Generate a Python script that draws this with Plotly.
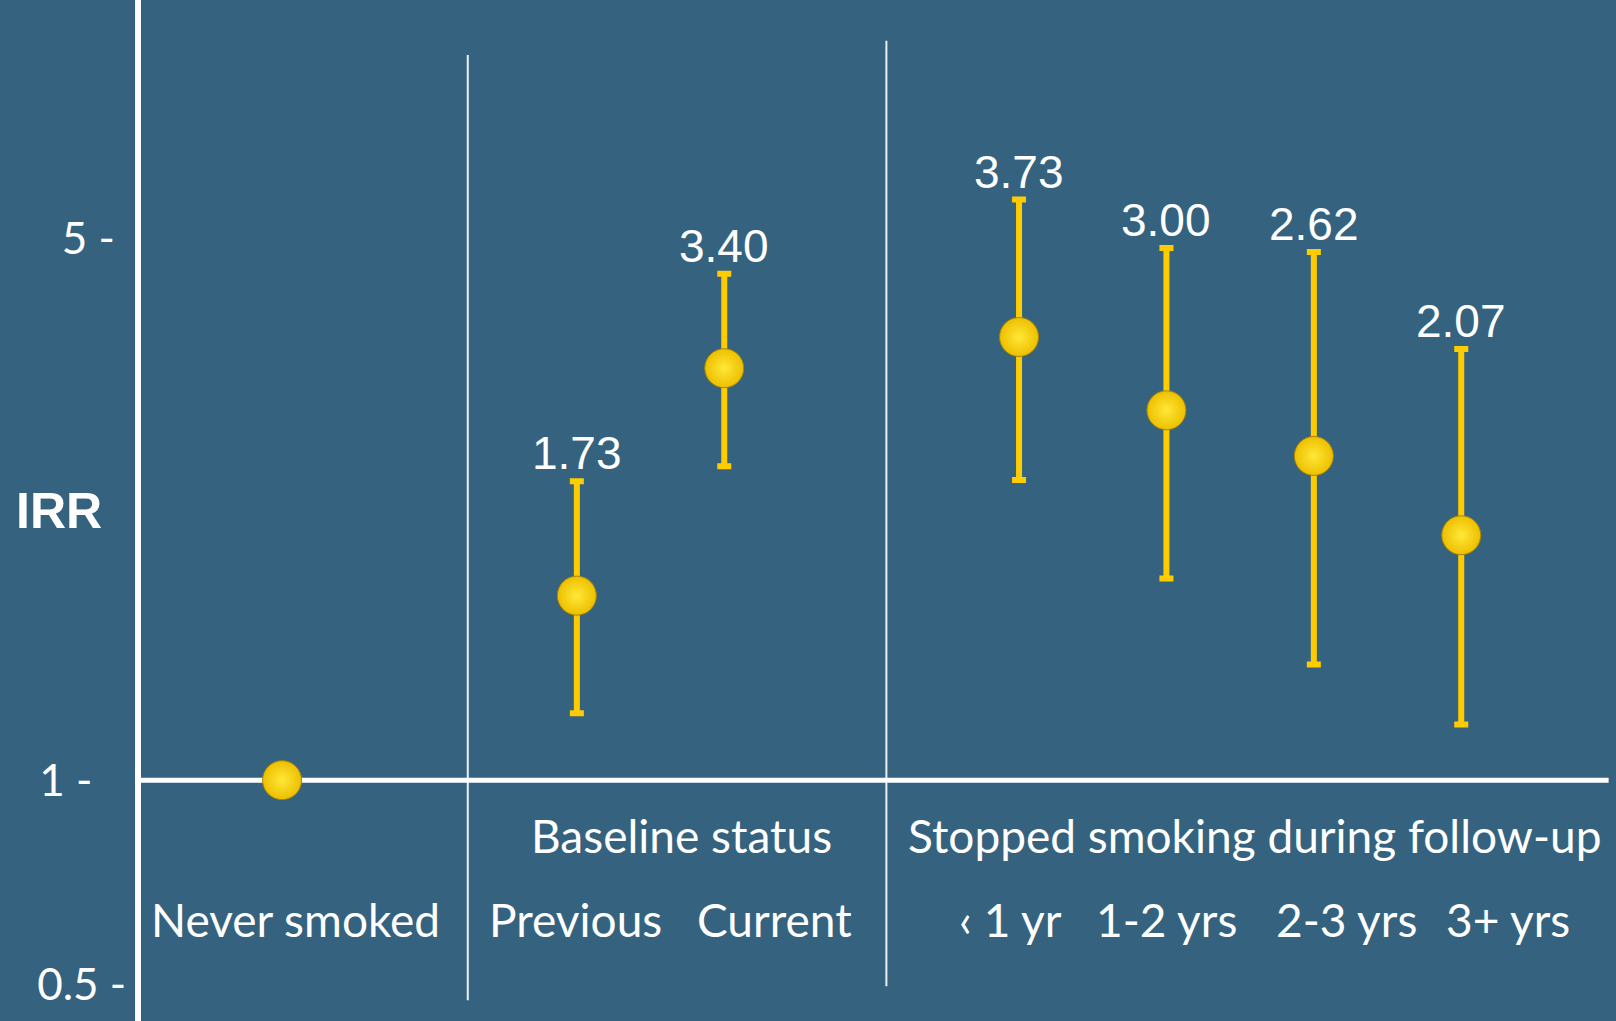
import math
import plotly.graph_objects as go

# ---- data ----
categories = ["Never smoked", "Previous", "Current", "\u2039 1 yr", "1-2 yrs", "2-3 yrs", "3+ yrs"]
x_pos = [0, 2, 3, 5, 6, 7, 8]
irr = [1.00, 1.73, 3.40, 3.73, 3.00, 2.62, 2.07]
ci_low = [1.00, 1.22, 2.54, 2.44, 1.82, 1.41, 1.18]
ci_high = [1.00, 2.43, 4.50, 5.61, 4.86, 4.80, 3.60]
value_labels = ["", "1.73", "3.40", "3.73", "3.00", "2.62", "2.07"]
tick_vals = [0.5, 1, 5]
tick_text = ["0.5 -<br>\u00a0", "1 -\u00a0\u00a0\u00a0", "5 -\u00a0"]
group_labels = ["Baseline status", "Stopped smoking during follow-up"]
group_label_x = [2.71, 6.6]
cat_label_x = [0.09, 1.99, 3.34, 4.94, 6.0, 7.22, 8.32]
separators_x = [1.26, 4.10]
separators_y = [[0.52, 8.62], [0.542, 8.99]]

BG = "#35637F"
YEL = "#FFCC00"
LABEL_FONT = "Lato, 'Open Sans', sans-serif"

fig = go.Figure()

# separators
for sx, (ylo, yhi) in zip(separators_x, separators_y):
    fig.add_trace(go.Scatter(x=[sx, sx], y=[ylo, yhi], mode="lines",
                             line=dict(color="rgba(255,255,255,0.9)", width=2),
                             hoverinfo="skip", showlegend=False))

# reference line at IRR = 1
fig.add_trace(go.Scatter(x=[-0.96, 9.0], y=[1, 1], mode="lines",
                         line=dict(color="white", width=5),
                         hoverinfo="skip", showlegend=False))

# points with CIs
fig.add_trace(go.Scatter(
    x=x_pos, y=irr, mode="markers",
    marker=dict(size=39, color="#EDBF00",
                gradient=dict(type="radial", color="#FFE838"),
                line=dict(color="#A88400", width=1)),
    error_y=dict(type="data", symmetric=False,
                 array=[h - v for h, v in zip(ci_high, irr)],
                 arrayminus=[v - l for l, v in zip(ci_low, irr)],
                 color=YEL, thickness=6, width=7),
    showlegend=False, hoverinfo="skip"))

annotations = []
for xp, hi, lab in zip(x_pos, ci_high, value_labels):
    if lab:
        annotations.append(dict(x=xp, y=math.log10(hi), xref="x", yref="y",
                                text=lab, showarrow=False, yanchor="bottom",
                                yshift=0,
                                font=dict(family="Liberation Sans, Arial", size=46, color="white")))
# category labels
for cx, lab in zip(cat_label_x, categories):
    annotations.append(dict(x=cx, y=0.099, xref="x", yref="paper", text=lab,
                            showarrow=False, yanchor="middle",
                            font=dict(family=LABEL_FONT, size=46, color="white")))
for gx, lab in zip(group_label_x, group_labels):
    annotations.append(dict(x=gx, y=0.182, xref="x", yref="paper", text=lab,
                            showarrow=False, yanchor="middle",
                            font=dict(family=LABEL_FONT, size=46, color="white")))
annotations.append(dict(x=-0.0556, y=0.5, xref="paper", yref="paper", text="<b>IRR</b>",
                        showarrow=False, xanchor="center",
                        font=dict(family="Liberation Sans, Arial", size=50, color="white")))

fig.update_layout(
    width=1616, height=1021,
    margin=dict(l=141, r=0, t=0, b=0),
    paper_bgcolor=BG, plot_bgcolor=BG,
    annotations=annotations,
    xaxis=dict(range=[-0.957, 9.05], showgrid=False, zeroline=False,
               showticklabels=False, showline=False, automargin=False),
    yaxis=dict(type="log", range=[math.log10(0.489), math.log10(10.15)],
               showgrid=False, zeroline=False, showline=True, linecolor="white",
               linewidth=6, tickvals=tick_vals, ticktext=tick_text, ticks="",
               ticklabelstandoff=0, ticklabeloverflow="allow", automargin=False,
               tickfont=dict(family=LABEL_FONT, size=44, color="white")),
)

fig.write_html("out.html", config={"displayModeBar": False},
               post_script="document.body.style.margin='0';document.body.style.background='%s';" % BG)
